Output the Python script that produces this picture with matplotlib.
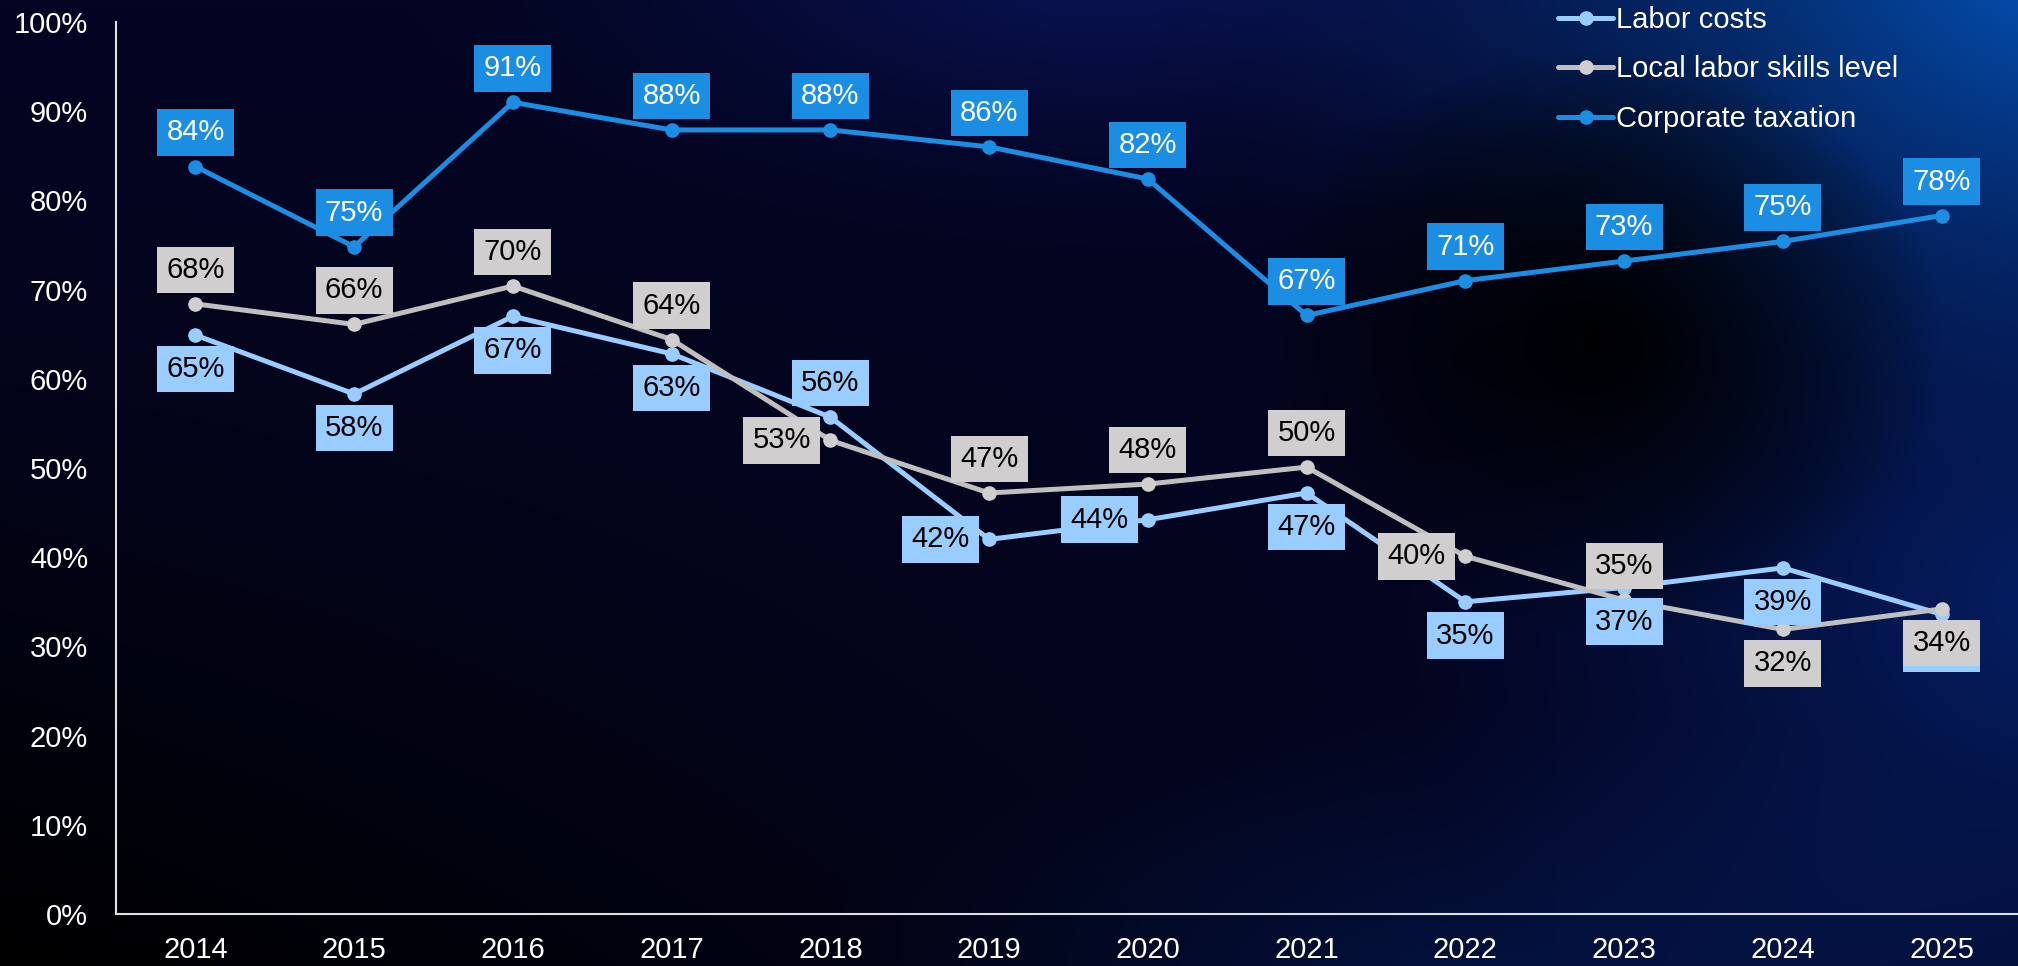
import numpy as np
import matplotlib
matplotlib.use('Agg')
import matplotlib.pyplot as plt

# ---------------- data ----------------
years = ['2014', '2015', '2016', '2017', '2018', '2019', '2020', '2021',
         '2022', '2023', '2024', '2025']
labor_costs = [64.9, 58.3, 67.0, 62.8, 55.7, 42.0, 44.2, 47.2, 35.0, 36.6, 38.8, 33.6]
local_skills = [68.4, 66.1, 70.4, 64.4, 53.1, 47.2, 48.2, 50.1, 40.1, 35.2, 31.9, 34.2]
corporate_tax = [83.8, 74.8, 91.0, 87.9, 87.9, 86.0, 82.4, 67.1, 71.0, 73.2, 75.4, 78.3]
series_names = ['Labor costs', 'Local labor skills level', 'Corporate taxation']
y_ticks = [0, 10, 20, 30, 40, 50, 60, 70, 80, 90, 100]

# label placement (layout)
labor_pos = ['below'] * 4 + ['above', 'left', 'left'] + ['below'] * 5
skills_pos = ['above'] * 4 + ['left'] + ['above'] * 3 + ['left', 'above', 'below', 'below']
tax_pos = ['above'] * 12

plt.rcParams['font.family'] = ['Liberation Sans', 'DejaVu Sans']

W, H = 2018, 966
fig = plt.figure(figsize=(W / 100, H / 100), dpi=100)

# ---------------- background gradient ----------------
h, w = H // 2, W // 2
yy, xx = np.mgrid[0:h, 0:w]
X = xx / w * W
Y = yy / h * H
img = np.zeros((h, w, 3))
base = np.array([4, 5, 34]) / 255.0
fade = np.clip(1 - ((Y / H) ** 1.5) * np.clip(1 - X / W * 1.3, 0, 1), 0, 1)
img += base[None, None, :] * fade[..., None]
# blue glow top-right
d = np.sqrt(((X - 2100) / 950) ** 2 + ((Y + 50) / 560) ** 2)
g = np.clip(1 - d, 0, 1) ** 1.6
img += np.array([0, 85, 165])[None, None, :] / 255.0 * g[..., None]
# navy glow right side
d2 = np.sqrt(((X - 2050) / 650) ** 2 + ((Y - 600) / 600) ** 2)
g2 = np.clip(1 - d2, 0, 1) ** 1.2
img += np.array([0, 25, 65])[None, None, :] / 255.0 * g2[..., None]
# faint navy bottom
d5 = np.sqrt(((X - 1500) / 700) ** 2 + ((Y - 1000) / 300) ** 2)
g5 = np.clip(1 - d5, 0, 1) ** 1.2
img += np.array([0, 15, 35])[None, None, :] / 255.0 * g5[..., None]
# faint navy glow top centre
d3 = np.sqrt(((X - 1100) / 700) ** 2 + ((Y + 40) / 300) ** 2)
g3 = np.clip(1 - d3, 0, 1) ** 1.5
img += np.array([5, 15, 55])[None, None, :] / 255.0 * g3[..., None]
# dark blob
d4 = np.sqrt(((X - 1600) / 340) ** 2 + ((Y - 340) / 290) ** 2)
g4 = np.clip(1 - d4, 0, 1) ** 0.8
img *= (1 - 0.95 * g4)[..., None]
img = np.clip(img, 0, 1)

bg = fig.add_axes([0, 0, 1, 1], zorder=-10)
bg.imshow(img, extent=(0, 1, 0, 1), aspect='auto', interpolation='bilinear')
bg.set_axis_off()

# ---------------- main axes ----------------
ax = fig.add_axes([116 / W, (H - 914) / H, 1905 / W, 892 / H])
ax.set_facecolor('none')

x = np.arange(len(years))
specs = [
    (labor_costs, series_names[0], '#99CCFF', '#99CCFF', '#99CCFF', 'black', labor_pos, 5),
    (local_skills, series_names[1], '#BFBFBF', '#D0CECE', '#D0CECE', 'black', skills_pos, 6),
    (corporate_tax, series_names[2], '#1B8DE3', '#1B8DE3', '#1B8DE3', 'white', tax_pos, 7),
]

offsets = {'above': (0, 24.5), 'below': (0, -24.5), 'left': (-35, 0)}

for vals, name, lc, mc, boxc, tc, pos, zl in specs:
    ax.plot(x, vals, color=lc, lw=3.6, marker='o', markersize=9.5,
            markerfacecolor=mc, markeredgecolor=mc, label=name, zorder=3,
            solid_capstyle='round')
    for xi, v, p in zip(x, vals, pos):
        ax.annotate(f'{round(v)}%', (xi, v), xytext=offsets[p],
                    textcoords='offset points', ha='center', va='center',
                    fontsize=21, color=tc, zorder=zl,
                    bbox=dict(boxstyle='square,pad=0.32', fc=boxc, ec='none'))

ax.set_xlim(-0.5, len(years) - 0.5)
ax.set_ylim(0, 100)
ax.set_xticks(x)
ax.set_xticklabels(years)
ax.set_yticks(y_ticks)
ax.set_yticklabels([f'{t}%' for t in y_ticks])
ax.tick_params(axis='both', length=0, colors='white', labelsize=21)
ax.tick_params(axis='y', pad=20)
ax.tick_params(axis='x', pad=16)
for s in ['top', 'right']:
    ax.spines[s].set_visible(False)
for s in ['left', 'bottom']:
    ax.spines[s].set_color('#E0E0E0')
    ax.spines[s].set_linewidth(1.5)

leg = fig.legend(loc='upper left', bbox_to_anchor=(1558 / W, 0.994),
                 frameon=False, fontsize=21, labelcolor='white',
                 handlelength=1.9, handletextpad=0.1, labelspacing=0.74,
                 borderpad=0, borderaxespad=0)

fig.savefig('out.png', dpi=100)
